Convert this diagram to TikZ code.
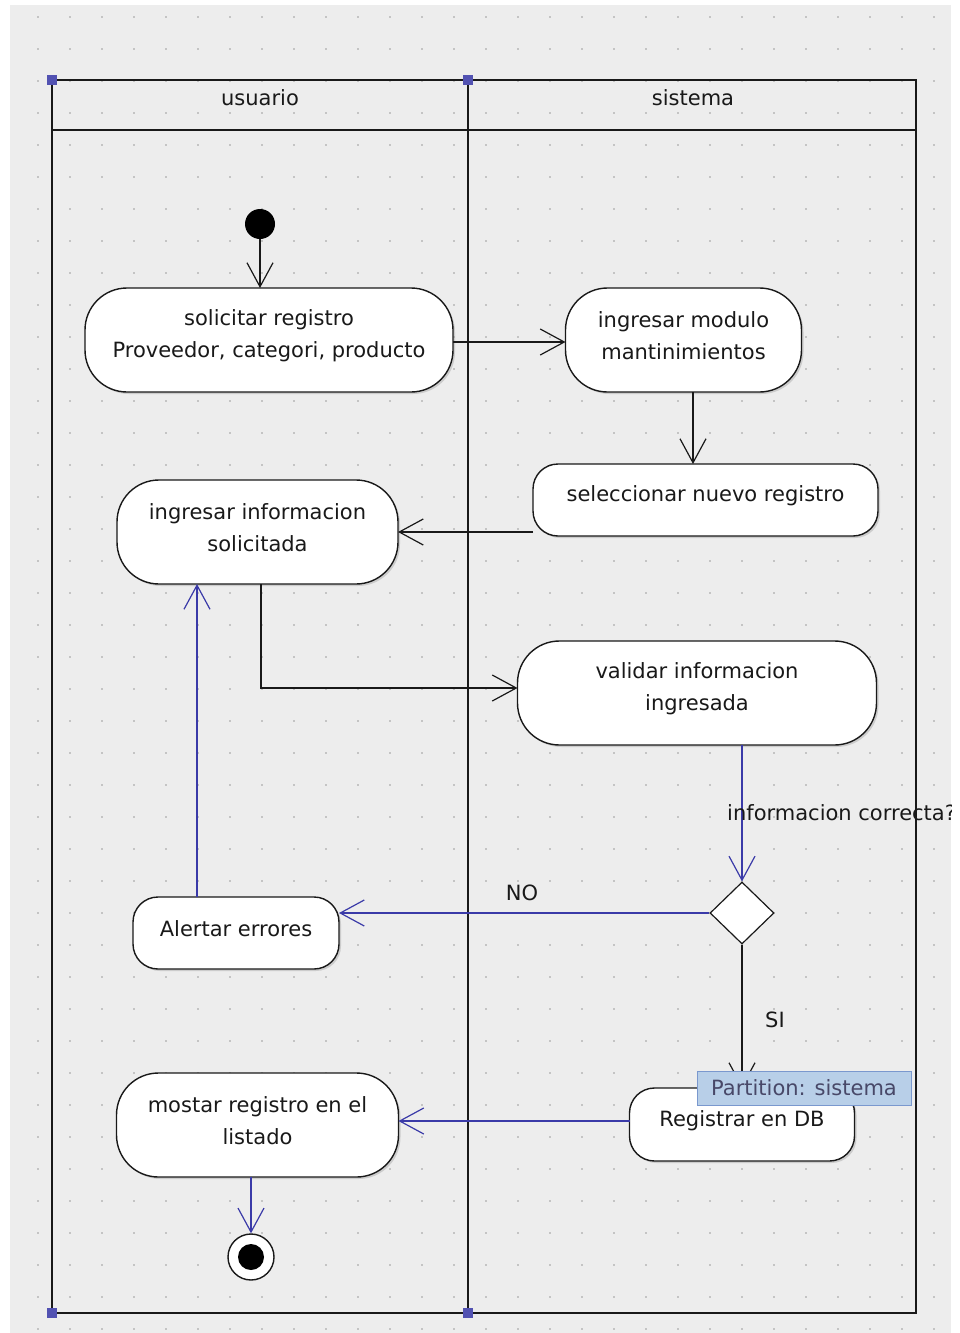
\documentclass[tikz,border=0pt]{standalone}
\usepackage{fontspec}
\setmainfont{DejaVu Sans}
\usetikzlibrary{arrows.meta,shapes.geometric,shadows}

\definecolor{canvas}{RGB}{237,237,237}
\definecolor{griddot}{RGB}{196,196,196}
\definecolor{flowblue}{RGB}{58,58,168}
\definecolor{handle}{RGB}{82,82,178}
\definecolor{tipfill}{RGB}{184,207,232}
\definecolor{tipline}{RGB}{122,152,206}
\definecolor{tiptext}{RGB}{72,72,104}

\tikzset{
  uml/.style={font=\fontsize{21pt}{32pt}\selectfont, text=black!90},
  lane/.style={draw=black!90, line width=1.7pt},
  action/.style={draw=black!90, line width=1.4pt, fill=white, rectangle,
    inner sep=0pt, outer sep=0pt,
    drop shadow={shadow xshift=2pt, shadow yshift=-2pt, opacity=.3}},
  bigact/.style={action, rounded corners=42pt, minimum height=104pt},
  smallact/.style={action, rounded corners=25pt, minimum height=72pt},
  caption/.style={uml, align=center, yshift=4pt},
  barb/.style={-{Straight Barb[length=24pt,width=26pt,line width=1.2pt]}},
  flow/.style={draw=black!90, line width=1.5pt, barb},
  bflow/.style={draw=flowblue, line width=1.3pt, barb},
  decision/.style={diamond, draw=black!90, line width=1.2pt, fill=white,
    inner sep=0pt, minimum width=64pt, minimum height=62pt}
}

\begin{document}
\begin{tikzpicture}[x=1pt, y=-1pt]
  \useasboundingbox (0,0) rectangle (960,1333);
  \fill[white] (0,0) rectangle (960,1333);
  \fill[canvas] (10,5) rectangle (951,1333);

  % dotted editor grid
  \foreach \i in {0,...,28}
    \foreach \j in {0,...,41}
      \fill[griddot] ({36.7+32*\i},{15.7+32*\j}) rectangle ++(2.2,2.2);

  % swimlanes
  \draw[lane] (52,80) rectangle (916,1313);
  \draw[lane] (468,80) -- (468,1313);
  \draw[lane] (52,130) -- (916,130);
  \node[uml] (laneA) at (260,98) {usuario};
  \node[uml] (laneB) at (693,98) {sistema};
  \foreach \hx/\hy in {52/80, 468/80, 52/1313, 468/1313}
    \fill[handle] (\hx-5,\hy-5) rectangle ++(10,10);

  % initial and final nodes
  \node[circle, fill=black, minimum size=30pt, inner sep=0pt] (start) at (260,224) {};
  \node[circle, draw=black!90, line width=1.4pt, fill=white, minimum size=46pt,
        inner sep=0pt,
        path picture={\fill[black] (path picture bounding box.center) circle (13pt);}]
        (stop) at (251,1257) {};

  % actions
  \node[bigact, minimum width=368pt,
        label={[caption]center:{solicitar registro\\Proveedor, categori, producto}}]
        (solicitar) at (269,340) {};
  \node[bigact, minimum width=236pt,
        label={[caption]center:{ingresar modulo\\mantinimientos}}]
        (modulo) at (683.5,340) {};
  \node[smallact, minimum width=345pt,
        label={[caption]center:{seleccionar nuevo registro}}]
        (nuevo) at (705.5,500) {};
  \node[bigact, minimum width=281pt,
        label={[caption]center:{ingresar informacion\\solicitada}}]
        (ingresar) at (257.5,532) {};
  \node[bigact, minimum width=359pt,
        label={[caption]center:{validar informacion\\ingresada}}]
        (validar) at (697,693) {};
  \node[smallact, minimum width=206pt,
        label={[caption]center:{Alertar errores}}]
        (alertar) at (236,933) {};
  \node[smallact, minimum width=225pt, minimum height=73pt,
        label={[caption]center:{Registrar en DB}}]
        (registrar) at (742,1124.5) {};
  \node[bigact, minimum width=282pt,
        label={[caption]center:{mostar registro en el\\listado}}]
        (mostrar) at (257.5,1125) {};
  \node[decision] (check) at (742,913) {};

  % control flows
  \draw[flow] (start.south) -- (start.south |- solicitar.north);
  \draw[flow] ([yshift=-2pt]solicitar.east) -- ([yshift=-2pt]modulo.west);
  \draw[flow] ([xshift=9.5pt]modulo.south) -- ([xshift=9.5pt]modulo.south |- nuevo.north);
  \draw[flow] (nuevo.west |- ingresar.east) -- (ingresar.east);
  \draw[flow] ([xshift=3.5pt]ingresar.south) |- ([yshift=5pt]validar.west);
  \draw[bflow] (check.north |- validar.south) -- (check.north);
  \draw[bflow] (check.west) -- (check.west -| alertar.east);
  \draw[bflow] ([xshift=-39pt]alertar.north) -- ([xshift=-39pt]alertar.north |- ingresar.south);
  \draw[flow] (check.south) -- (check.south |- registrar.north);
  \draw[bflow] ([yshift=3.5pt]registrar.west) -- ([yshift=3.5pt]registrar.west -| mostrar.east);
  \draw[bflow] (stop.north |- mostrar.south) -- (stop.north);

  % guards
  \node[uml] (no) at (522,893) {NO};
  \node[uml] (si) at (775,1020) {SI};
  \begin{scope}
    \clip (10,5) rectangle (951,1333);
    \node[uml, anchor=west, inner sep=0pt] (guard) at (727,813) {informacion correcta?};
  \end{scope}

  % hover tooltip
  \node[draw=tipline, fill=tipfill, line width=1pt, minimum width=214pt,
        minimum height=34pt, inner sep=0pt, text=tiptext,
        font=\fontsize{21pt}{26pt}\selectfont]
        (tooltip) at (804,1088) {Partition: sistema};
\end{tikzpicture}
\end{document}
